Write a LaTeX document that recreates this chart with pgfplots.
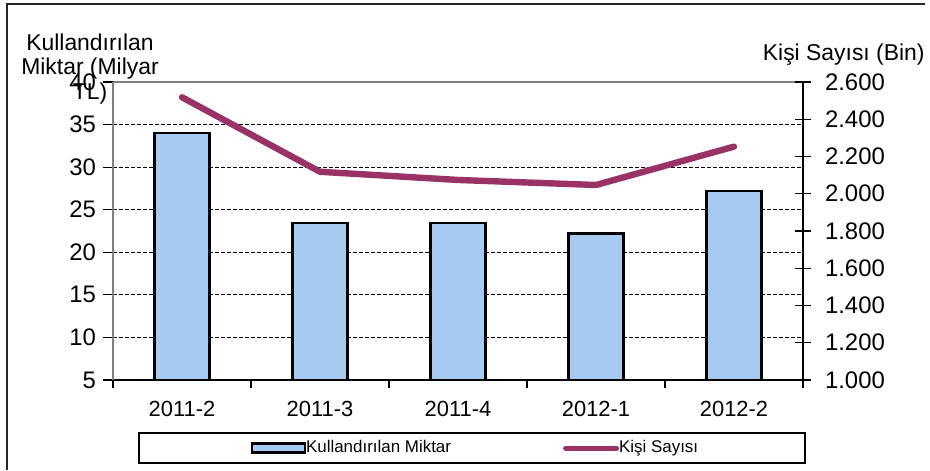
\documentclass[border=0pt]{standalone}
\usepackage{fontspec}
\setmainfont{Liberation Sans}
\usepackage{pgfplots}
\pgfplotsset{compat=1.18}
\definecolor{barblue}{RGB}{166,202,240}
\definecolor{linepurple}{RGB}{153,51,102}
\begin{document}
\begin{tikzpicture}
\path (0,0) rectangle (465bp,235bp);
\draw[line width=1bp, black!85] (3.5bp,0) -- (3.5bp,233bp) -- (462.5bp,233bp);
\begin{axis}[
  at={(56.5bp,45bp)}, anchor=south west,
  scale only axis, width=345bp, height=149bp,
  xmin=-0.5, xmax=4.5, ymin=5, ymax=40,
  axis x line*=bottom, axis y line*=left,
  x axis line style={-, black, line width=1bp},
  y axis line style={-, gray, line width=0.8bp},
  xtick={0,1,2,3,4},
  xticklabels={2011-2,2011-3,2011-4,2012-1,2012-2},
  minor xtick={-0.5,0.5,1.5,2.5,3.5,4.5},
  major x tick style={draw=none},
  ytick={5,10,15,20,25,30,35,40},
  tick align=outside,
  major tick length=5bp, minor tick length=4bp,
  tick style={black, line width=0.6bp},
  ymajorgrids,
  major grid style={black, line width=0.5bp, dash pattern=on 2bp off 1bp},
  xticklabel style={font=\fontsize{11}{13}\selectfont, yshift=-2bp},
  yticklabel style={font=\fontsize{12}{14}\selectfont},
  /pgf/number format/assume math mode=true,
]
\addplot[ybar, bar width=27.5bp, fill=barblue, draw=black, line width=1.1bp] coordinates {
  (0,34.0) (1,23.4) (2,23.4) (3,22.2) (4,27.2)
};
\draw[gray, line width=0.8bp] (rel axis cs:0,1) -- (rel axis cs:1,1);
\end{axis}
\begin{axis}[
  at={(56.5bp,45bp)}, anchor=south west,
  scale only axis, width=345bp, height=149bp,
  xmin=-0.5, xmax=4.5, ymin=1, ymax=2.6,
  axis x line=none, axis y line*=right,
  y axis line style={-, black, line width=0.8bp},
  ytick={1,1.2,1.4,1.6,1.8,2,2.2,2.4,2.6},
  ytick align=center, major tick length=8bp,
  tick style={black, line width=0.6bp},
  yticklabel style={font=\fontsize{12}{14}\selectfont, xshift=3.5bp,
    /pgf/number format/fixed, /pgf/number format/fixed zerofill, /pgf/number format/precision=3},
  /pgf/number format/assume math mode=true,
  legend columns=2,
  legend style={at={(0.5203,-0.2282)}, anchor=center, draw=black, line width=0.8bp,
    inner sep=0pt, row sep=0pt, column sep=0pt,
    font=\fontsize{8.5}{9}\selectfont, nodes={inner sep=0pt}},
]
\addlegendimage{legend image code/.code={
  \path[draw=none, fill=none] (-56.5bp,-7.5bp) rectangle (0bp,7.5bp);
  \draw[fill=barblue, draw=black, line width=1.2bp] (0bp,-2.3bp) rectangle (26.5bp,2.3bp);}}
\addlegendentry{\makebox[128.5bp][l]{Kullandırılan Miktar}}
\addplot[linepurple, line width=3.2bp, line join=round, line cap=round,
  legend image code/.code={\draw[linepurple, line width=2.5bp, line cap=round] (1bp,0) -- (26.5bp,0);}]
  coordinates {(0,2.518) (1,2.118) (2,2.074) (3,2.047) (4,2.253)};
\addlegendentry{\makebox[93bp][l]{Kişi Sayısı}}
\end{axis}
\node[align=center, font=\fontsize{11.5}{12.5}\selectfont] at (45bp,200.5bp) {Kullandırılan\\Miktar (Milyar\\TL)};
\node[anchor=east, font=\fontsize{11.5}{12}\selectfont, inner sep=0pt] at (462.5bp,207.5bp) {Kişi Sayısı (Bin)};
\end{tikzpicture}
\end{document}
